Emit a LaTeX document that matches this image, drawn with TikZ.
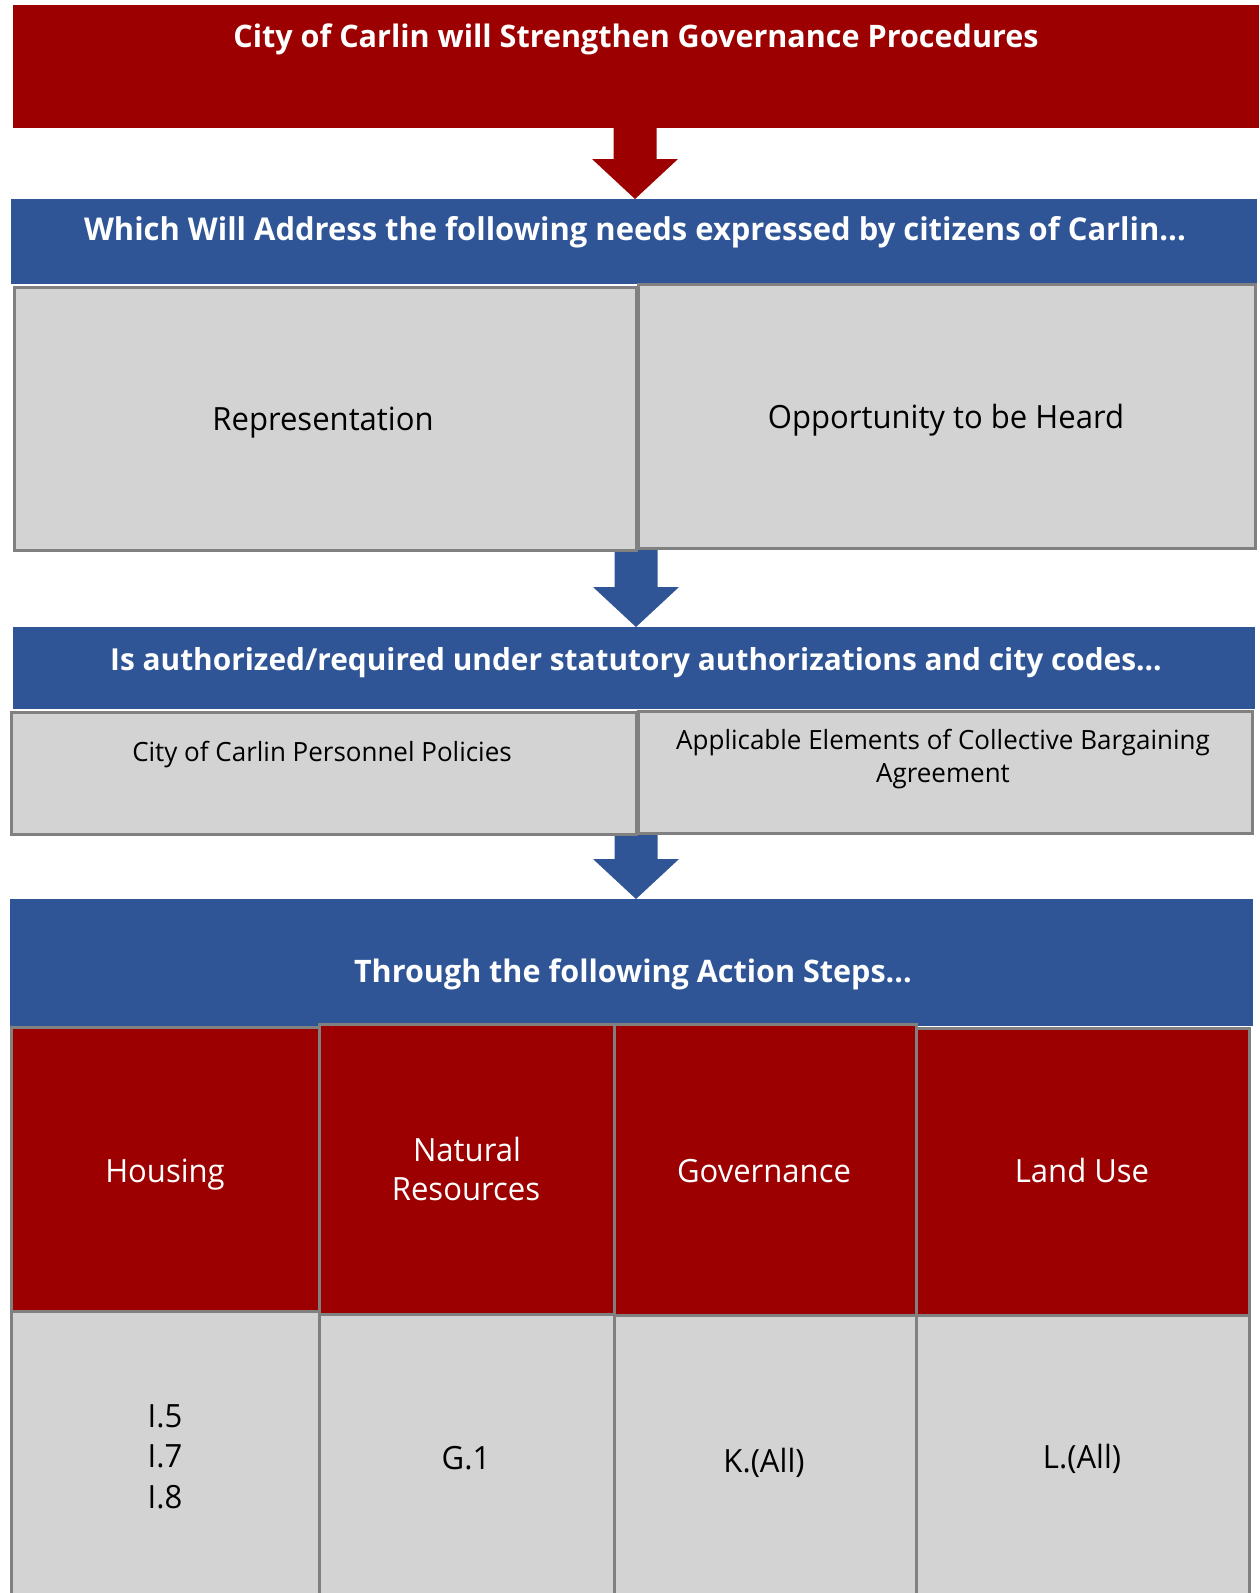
\documentclass[tikz,border=0pt]{standalone}
\usepackage{fontspec}
\setmainfont{Open Sans}[FakeStretch=0.97]
\newfontfamily\hdfont{Open Sans}[FakeStretch=0.985]
\newfontfamily\smfont{Open Sans}[FakeStretch=0.98]
\usetikzlibrary{calc}
\definecolor{redc}{RGB}{157,0,0}
\definecolor{bluec}{RGB}{47,85,151}
\definecolor{grayc}{RGB}{211,211,211}
\definecolor{bordc}{RGB}{128,128,128}
\tikzset{
  box/.style={rectangle, inner sep=0pt, anchor=north west},
  redhead/.style={box, fill=redc},
  bluehead/.style={box, fill=bluec},
  graybox/.style={box, fill=grayc, draw=bordc, line width=2.5pt},
  redcell/.style={box, fill=redc, draw=bordc, line width=2.5pt},
  hdtext/.style={anchor=base, inner sep=0pt, text=white, font=\hdfont\bfseries\fontsize{#1}{37}\selectfont},
  hdtext/.default=31,
  bodytext/.style={anchor=base, inner sep=0pt, text=black, font=\fontsize{32}{39}\selectfont},
  smalltext/.style={anchor=base, inner sep=0pt, text=black, font=\smfont\fontsize{26.5}{33}\selectfont},
  celltext/.style={anchor=base, inner sep=0pt, text=white, font=\fontsize{32}{39}\selectfont},
}
\newcommand{\blockarrow}[4]{%
  \fill[#1] let \p1=(#2), \p2=(#3) in
    (\x2-21.5,\y1) -- (\x2-21.5,\y2+40) -- (\x2-43,\y2+40) -- (\x2,\y2)
    -- (\x2+43,\y2+40) -- (\x2+21.5,\y2+40) -- (\x2+21.5,\y1) -- cycle;}
\begin{document}
\begin{tikzpicture}[x=1pt,y=-1pt]
\useasboundingbox[fill=white] (0,0) rectangle (1259,1593);
% boxes
\node[redhead, minimum width=1246pt, minimum height=123pt] (top) at (13,5) {};
\node[bluehead, minimum width=1246pt, minimum height=85pt] (blue1) at (11,199) {};
\node[bluehead, minimum width=1242pt, minimum height=82pt] (blue2) at (13,627) {};
\node[bluehead, minimum width=1243pt, minimum height=127pt] (blue3) at (10,899) {};
% arrows
\coordinate (a1s) at (635,126);
\coordinate (a1e) at (635,199);
\coordinate (a2s) at (635,546);
\coordinate (a2e) at (636,627);
\coordinate (a3s) at (635,830);
\coordinate (a3e) at (636,899);
\blockarrow{redc}{a1s}{a1e}{}
\blockarrow{bluec}{a2s}{a2e}{}
\blockarrow{bluec}{a3s}{a3e}{}
% gray boxes row 1
\node[graybox, minimum width=622pt, minimum height=263pt] (rep) at (13,286) {};
\node[graybox, minimum width=617pt, minimum height=264pt] (opp) at (637,283) {};
% gray boxes row 2
\node[graybox, minimum width=625pt, minimum height=122pt] (pers) at (10,711) {};
\node[graybox, minimum width=614pt, minimum height=122pt] (appl) at (637,710) {};
% red cells
\node[redcell, minimum width=308pt, minimum height=284pt] (hous) at (10,1026) {};
\node[redcell, minimum width=295pt, minimum height=290pt] (natr) at (318,1023) {};
\node[redcell, minimum width=302pt, minimum height=291pt] (govn) at (613,1023) {};
\node[redcell, minimum width=333pt, minimum height=287pt] (land) at (915,1027) {};
% gray cells
\node[graybox, minimum width=308pt, minimum height=300pt] (housg) at (10,1310) {};
\node[graybox, minimum width=295pt, minimum height=300pt] (natrg) at (318,1313) {};
\node[graybox, minimum width=302pt, minimum height=300pt] (govng) at (613,1314) {};
\node[graybox, minimum width=333pt, minimum height=300pt] (landg) at (915,1314) {};
% texts
\node[hdtext] (t1) at (636,47) {City of Carlin will Strengthen Governance Procedures};
\node[hdtext=31.4] (t2) at (635,240) {Which Will Address the following needs expressed by citizens of Carlin...};
\node[bodytext] (trep) at (323,430) {Representation};
\node[bodytext] (topp) at (946,428) {Opportunity to be Heard};
\node[hdtext=30.3] (t3) at (636,670) {Is authorized/required under statutory authorizations and city codes...};
\node[smalltext] (tpers) at (322,761) {City of Carlin Personnel Policies};
\node[smalltext] (tappl1) at (943,749) {Applicable Elements of Collective Bargaining};
\node[smalltext] (tappl2) at (943,782) {Agreement};
\node[hdtext] (t4) at (633,982) {Through the following Action Steps...};
\node[celltext] (thous) at (165,1182) {Housing};
\node[celltext] (tnat1) at (467,1161) {Natural};
\node[celltext] (tnat2) at (466,1200) {Resources};
\node[celltext] (tgov) at (764,1182) {Governance};
\node[celltext] (tland) at (1082,1182) {Land Use};
\node[bodytext] (ti5) at (165,1427) {I.5};
\node[bodytext] (ti7) at (165,1467) {I.7};
\node[bodytext] (ti8) at (165,1508) {I.8};
\node[bodytext] (tg1) at (466,1469) {G.1};
\node[bodytext] (tk) at (764,1472) {K.(All)};
\node[bodytext] (tl) at (1082,1468) {L.(All)};
\end{tikzpicture}
\end{document}
